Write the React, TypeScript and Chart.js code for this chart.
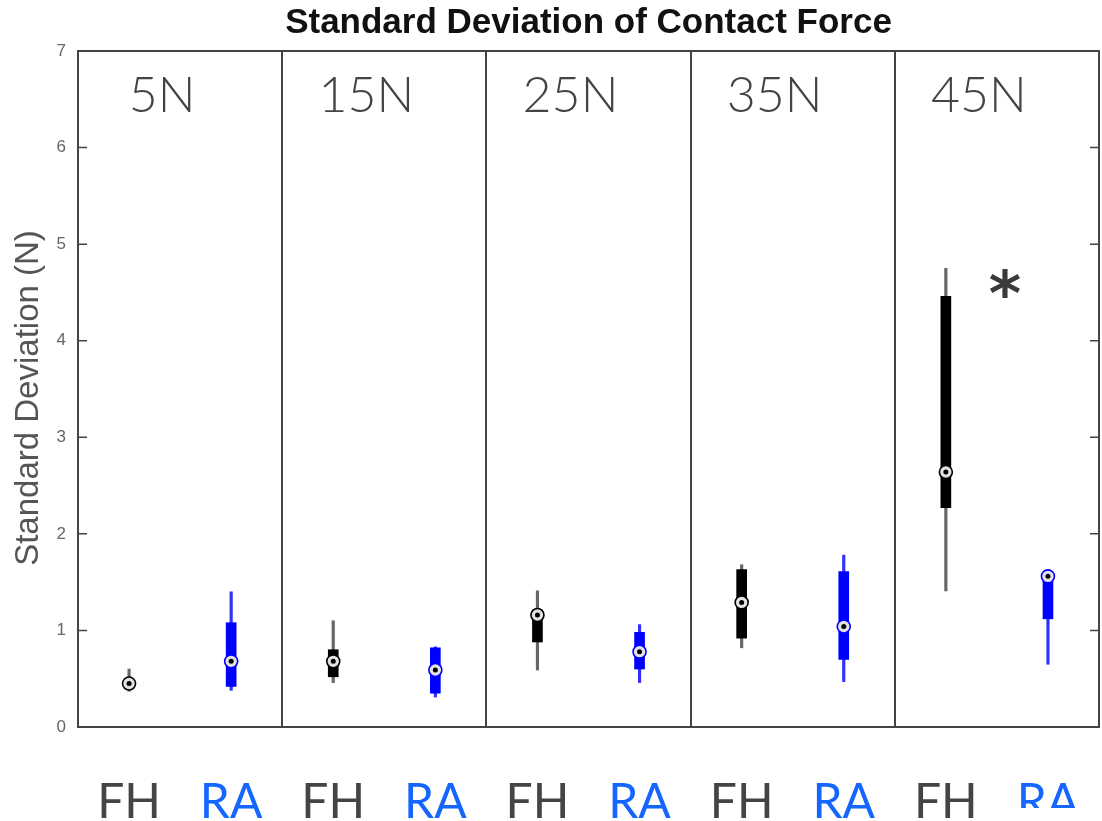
import React, { useEffect, useRef } from "react";
import { Chart, registerables } from "chart.js";

Chart.register(...registerables);

const categories = ["FH", "RA", "FH", "RA", "FH", "RA", "FH", "RA", "FH", "RA"];
const groupLabels = ["5N", "15N", "25N", "35N", "45N"];
const whiskerLow = [0.37, 0.38, 0.46, 0.31, 0.59, 0.46, 0.82, 0.47, 1.41, 0.65];
const whiskerHigh = [0.6, 1.4, 1.1, 0.83, 1.41, 1.06, 1.68, 1.78, 4.75, 1.58];
const q1 = [0.42, 0.42, 0.52, 0.35, 0.88, 0.6, 0.92, 0.7, 2.27, 1.12];
const q3 = [0.48, 1.08, 0.8, 0.82, 1.21, 0.98, 1.63, 1.61, 4.46, 1.56];
const medians = [0.45, 0.68, 0.68, 0.59, 1.16, 0.78, 1.29, 1.04, 2.64, 1.56];
const yTicks = [0, 1, 2, 3, 4, 5, 6, 7];
const significance = { between: [8, 9], value: 4.58, text: "*" };
const chartTitle = "Standard Deviation of Contact Force";
const yTitle = "Standard Deviation (N)";

const FH_BOX = "#000000";
const FH_WHISKER = "#666666";
const RA_BOX = "#0000ff";
const RA_WHISKER = "#3030ff";
const FH_LABEL = "#444444";
const RA_LABEL = "#1565ff";
const AXIS = "#444444";

const isRA = (i: number) => i % 2 === 1;

const decorPlugin = {
  id: "decor",
  afterDraw(chart: any) {
    const ctx = chart.ctx;
    const { left, right, top, bottom } = chart.chartArea;
    const x = chart.scales.x;
    const y = chart.scales.y;
    ctx.save();
    ctx.strokeStyle = AXIS;
    ctx.lineWidth = 2;
    ctx.beginPath();
    ctx.moveTo(left - 1, top);
    ctx.lineTo(right, top);
    ctx.lineTo(right, bottom);
    ctx.stroke();
    ctx.lineWidth = 1.5;
    ctx.beginPath();
    yTicks.forEach((v) => {
      const py = y.getPixelForValue(v);
      ctx.moveTo(left, py);
      ctx.lineTo(left + 9, py);
      ctx.moveTo(right - 9, py);
      ctx.lineTo(right, py);
    });
    ctx.stroke();

    // title centred over the plot area
    ctx.fillStyle = "#111111";
    ctx.font = "bold 35px 'Liberation Sans', Arial, sans-serif";
    ctx.textAlign = "center";
    ctx.textBaseline = "alphabetic";
    ctx.fillText(chartTitle, (left + right) / 2, top - 18);

    // y-axis title
    ctx.save();
    ctx.translate(29, (top + bottom) / 2 + 9);
    ctx.rotate(-Math.PI / 2);
    ctx.fillStyle = "#555555";
    ctx.font = "33px 'Liberation Sans', Arial, sans-serif";
    ctx.textBaseline = "middle";
    ctx.fillText(yTitle, 0, 0);
    ctx.restore();

    ctx.fillStyle = "#444444";
    ctx.font = "300 50px Lato";
    ctx.textAlign = "center";
    ctx.textBaseline = "alphabetic";
    groupLabels.forEach((g, i) => {
      const px = (x.getPixelForValue(2 * i) + x.getPixelForValue(2 * i + 1)) / 2 - 18;
      ctx.fillText(g, px, top + 61);
    });

    const sx =
      x.getPixelForValue(significance.between[0]) * 0.42 +
      x.getPixelForValue(significance.between[1]) * 0.58;
    ctx.font = "bold 62px 'DejaVu Sans'";
    ctx.textBaseline = "middle";
    ctx.fillStyle = "#3a3a3a";
    ctx.fillText(significance.text, sx, y.getPixelForValue(significance.value) + 14);

    // the last label is cut off at the bottom of the figure
    const lx = x.getPixelForValue(categories.length - 1);
    ctx.fillStyle = "#ffffff";
    ctx.fillRect(lx - 45, bottom + 81, 100, 40);
    ctx.restore();
  },
};

export default function App() {
  const ref = useRef<HTMLCanvasElement | null>(null);
  useEffect(() => {
    document.body.style.margin = "0";
    const chart = new Chart(ref.current as HTMLCanvasElement, {
      type: "bar",
      data: {
        labels: categories,
        datasets: [
          {
            type: "bar",
            data: categories.map((_, i) => [whiskerLow[i], whiskerHigh[i]]) as any,
            backgroundColor: categories.map((_, i) => (isRA(i) ? RA_WHISKER : FH_WHISKER)),
            barThickness: 2.5,
            grouped: false,
            borderWidth: 0,
            order: 4,
          } as any,
          {
            type: "bar",
            data: categories.map((_, i) => [q1[i], q3[i]]) as any,
            backgroundColor: categories.map((_, i) => (isRA(i) ? RA_BOX : FH_BOX)),
            barThickness: 10,
            grouped: false,
            borderWidth: 0,
            order: 3,
          } as any,
          {
            type: "line",
            data: medians,
            showLine: false,
            pointRadius: 6.5,
            pointBorderWidth: 1.6,
            pointBorderColor: categories.map((_, i) => (isRA(i) ? RA_BOX : FH_BOX)),
            pointBackgroundColor: "#e2e2e2",
            order: 2,
          } as any,
          {
            type: "line",
            data: medians,
            showLine: false,
            pointRadius: 2.5,
            pointBorderWidth: 0,
            pointBackgroundColor: "#000000",
            order: 1,
          } as any,
        ],
      },
      options: {
        responsive: false,
        animation: false,
        layout: { autoPadding: false, padding: { left: 0, right: 3, top: 51, bottom: 0 } },
        plugins: {
          legend: { display: false },
          tooltip: { enabled: false },
          title: { display: false },
        },
        scales: {
          x: {
            type: "category",
            offset: true,
            grid: {
              offset: true,
              drawTicks: false,
              lineWidth: 2,
              color: (c: any) =>
                c.index !== undefined && c.index > 0 && c.index % 2 === 0 ? AXIS : "rgba(0,0,0,0)",
            },
            border: { display: true, color: AXIS, width: 2 },
            ticks: {
              padding: 0,
              font: { family: "Lato", size: 48, lineHeight: 3.15 },
              color: (c: any) => (isRA(c.index) ? RA_LABEL : FH_LABEL),
              maxRotation: 0,
              autoSkip: false,
            },
            afterFit: (s: any) => {
              s.height = 94;
              s.paddingLeft = 0;
              s.paddingRight = 0;
            },
          },
          y: {
            min: 0,
            max: 7,
            afterBuildTicks: (s: any) => {
              s.ticks = yTicks.map((v) => ({ value: v }));
            },
            grid: { display: false, drawTicks: false },
            border: { display: true, color: AXIS, width: 2 },
            ticks: {
              padding: 12,
              color: "#666666",
              font: { family: "'Liberation Sans', Arial, sans-serif", size: 17 },
            },
            afterFit: (s: any) => {
              s.width = 78;
            },
          },
        },
      },
      plugins: [decorPlugin],
    });
    return () => chart.destroy();
  }, []);
  return (
    <div style={{ width: 1102, height: 821, background: "#ffffff" }}>
      <canvas ref={ref} width={1102} height={821} />
    </div>
  );
}
